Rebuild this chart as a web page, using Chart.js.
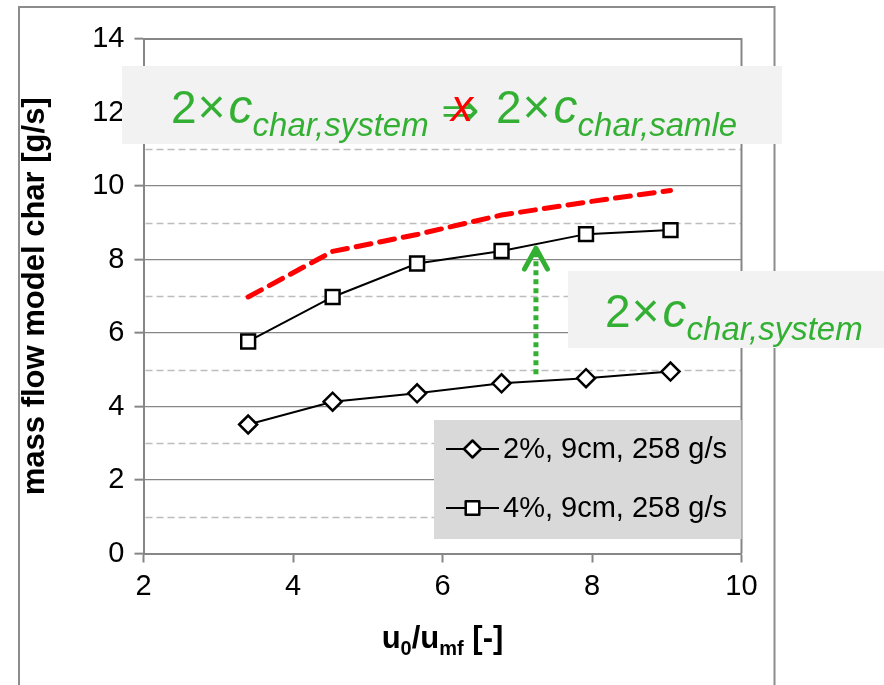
<!DOCTYPE html>
<html><head><meta charset="utf-8">
<script src="https://cdn.jsdelivr.net/npm/chart.js@4.4.0/dist/chart.umd.min.js"></script>
<style>html,body{margin:0;padding:0;background:#fff}#wrap{width:884px;height:685px}</style>
</head><body><div id="wrap"><canvas id="c" width="884" height="685"></canvas></div>
<script>
// ---- data ----
const xValues = [3.40, 4.53, 5.66, 6.79, 7.92, 9.05];
const series2pct = [3.51, 4.13, 4.36, 4.63, 4.77, 4.95];
const series4pct = [5.77, 6.98, 7.89, 8.23, 8.69, 8.80];
const dashedRed = [6.98, 8.22, 8.68, 9.21, 9.56, 9.88];
const arrowX = [7.25, 7.25];
const arrowY = [4.88, 8.31];
const xTickValues = [2, 4, 6, 8, 10];
const yTickValues = [0, 2, 4, 6, 8, 10, 12, 14];
const minorY = [1, 3, 5, 7, 9, 11, 13];
const seriesLabels = ['2%, 9cm, 258 g/s', '4%, 9cm, 258 g/s'];
const yTitle = 'mass flow model char [g/s]';

const FONT = '"Liberation Sans", Arial, sans-serif';
const GREEN = '#33b033';
const AXIS = '#868686';

const pts = (ys) => xValues.map((x, i) => ({x, y: ys[i]}));

function drawRuns(ctx, x, yBase, runs) {
  ctx.textBaseline = 'alphabetic';
  ctx.textAlign = 'left';
  for (const r of runs) {
    ctx.font = r.font;
    ctx.fillStyle = r.color || '#000';
    ctx.fillText(r.t, x, yBase + (r.dy || 0));
    x += ctx.measureText(r.t).width + (r.gap || 0);
  }
  return x;
}
function runsWidth(ctx, runs) {
  let w = 0;
  for (const r of runs) { ctx.font = r.font; w += ctx.measureText(r.t).width + (r.gap || 0); }
  return w;
}
function cGroup(sub) {
  return [
    {t: '2', font: '46px ' + FONT, color: GREEN, gap: 1},
    {t: '×', font: '48px ' + FONT, color: GREEN, gap: 3},
    {t: 'c', font: 'italic 48px ' + FONT, color: GREEN},
    {t: sub, font: 'italic 33px ' + FONT, color: GREEN, dy: 13}
  ];
}
function drawMarker(ctx, style, cx, cy) {
  ctx.save();
  ctx.fillStyle = '#fff'; ctx.strokeStyle = '#000'; ctx.lineWidth = 2.5;
  ctx.beginPath();
  if (style === 'rectRot') {
    const r = 8.5;
    ctx.moveTo(cx, cy - r); ctx.lineTo(cx + r, cy); ctx.lineTo(cx, cy + r); ctx.lineTo(cx - r, cy); ctx.closePath();
  } else {
    const s = 6.8;
    ctx.rect(cx - s, cy - s, 2 * s, 2 * s);
  }
  ctx.fill(); ctx.stroke();
  ctx.restore();
}

const deco = {
  id: 'deco',
  beforeDraw(chart) {
    const ctx = chart.ctx;
    ctx.save();
    ctx.fillStyle = '#fff'; ctx.fillRect(0, 0, chart.width, chart.height);
    ctx.strokeStyle = '#8c8c8c'; ctx.lineWidth = 2;
    ctx.strokeRect(19, 7, 755.5, 700);
    ctx.restore();
  },
  beforeDatasetsDraw(chart) {
    const {ctx, chartArea: a, scales: {y}} = chart;
    ctx.save();
    ctx.strokeStyle = '#bdbdbd'; ctx.lineWidth = 1.4; ctx.setLineDash([7, 4]);
    minorY.forEach(v => {
      const py = Math.round(y.getPixelForValue(v)) + 0.5;
      ctx.beginPath(); ctx.moveTo(a.left + 2, py); ctx.lineTo(a.right, py); ctx.stroke();
    });
    ctx.setLineDash([]);
    ctx.strokeStyle = AXIS; ctx.lineWidth = 2;
    ctx.beginPath(); ctx.moveTo(a.left, a.top); ctx.lineTo(a.right, a.top); ctx.lineTo(a.right, a.bottom); ctx.stroke();
    ctx.restore();
  },
  afterDraw(chart) {
    const {ctx, chartArea: a, scales: {x, y}} = chart;
    ctx.save();
    // arrow head
    const tx = x.getPixelForValue(arrowX[1]), ty = y.getPixelForValue(arrowY[1]);
    ctx.strokeStyle = GREEN; ctx.lineWidth = 5; ctx.lineCap = 'round'; ctx.lineJoin = 'round';
    ctx.beginPath(); ctx.moveTo(tx - 11.5, ty + 21); ctx.lineTo(tx, ty); ctx.lineTo(tx + 11.5, ty + 21); ctx.stroke();

    // legend
    ctx.fillStyle = '#d9d9d9'; ctx.fillRect(434, 420, a.right - 434, 119);
    const rows = [449, 508], styles = ['rectRot', 'rect'];
    rows.forEach((ry, i) => {
      ctx.strokeStyle = '#000'; ctx.lineWidth = 2; ctx.lineCap = 'butt';
      ctx.beginPath(); ctx.moveTo(446, ry); ctx.lineTo(499, ry); ctx.stroke();
      drawMarker(ctx, styles[i], 472.5, ry);
      ctx.fillStyle = '#000'; ctx.font = '29px ' + FONT; ctx.textBaseline = 'middle'; ctx.textAlign = 'left';
      ctx.fillText(seriesLabels[i], 503, ry + 1);
    });

    // top annotation
    ctx.fillStyle = '#f2f2f2'; ctx.fillRect(122, 66, 660, 78);
    drawRuns(ctx, 171, 123, cGroup('char,system'));
    ctx.fillStyle = GREEN; ctx.font = '46px "DejaVu Sans", sans-serif'; ctx.textBaseline = 'alphabetic'; ctx.textAlign = 'left';
    ctx.fillText('⇒', 441, 126);
    ctx.fillStyle = '#ff0000'; ctx.font = 'italic 44px ' + FONT;
    ctx.fillText('x', 451, 121);
    drawRuns(ctx, 496, 123, cGroup('char,samle'));

    // right annotation
    ctx.fillStyle = '#f2f2f2'; ctx.fillRect(568, 271, 884 - 568, 77);
    drawRuns(ctx, 605, 327, cGroup('char,system'));

    // y title
    ctx.save();
    ctx.translate(44, (a.top + a.bottom) / 2);
    ctx.rotate(-Math.PI / 2);
    ctx.fillStyle = '#000'; ctx.font = 'bold 31px ' + FONT; ctx.textAlign = 'center'; ctx.textBaseline = 'alphabetic';
    ctx.fillText(yTitle, 0, 0);
    ctx.restore();

    // x title
    const xr = [
      {t: 'u', font: 'bold 31px ' + FONT},
      {t: '0', font: 'bold 20px ' + FONT, dy: 7},
      {t: '/u', font: 'bold 31px ' + FONT},
      {t: 'mf', font: 'bold 20px ' + FONT, dy: 7},
      {t: ' [-]', font: 'bold 31px ' + FONT}
    ];
    const w = runsWidth(ctx, xr);
    drawRuns(ctx, (a.left + a.right) / 2 - w / 2, 648, xr);
    ctx.restore();
  }
};

new Chart(document.getElementById('c'), {
  type: 'scatter',
  data: {
    datasets: [
      {label: seriesLabels[0], data: pts(series2pct), showLine: true, borderColor: '#000', borderWidth: 2,
       pointStyle: 'rectRot', pointRadius: 9, pointBackgroundColor: '#fff', pointBorderColor: '#000', pointBorderWidth: 2.5},
      {label: seriesLabels[1], data: pts(series4pct), showLine: true, borderColor: '#000', borderWidth: 2,
       pointStyle: 'rect', pointRadius: 9.8, pointBackgroundColor: '#fff', pointBorderColor: '#000', pointBorderWidth: 2.5},
      {label: 'system x2', data: pts(dashedRed), showLine: true, borderColor: '#ff0000', borderWidth: 5,
       borderDash: [15, 9], pointRadius: 0, borderCapStyle: 'round'},
      {label: 'arrow', data: arrowX.map((ax, i) => ({x: ax, y: arrowY[i]})), showLine: true, borderColor: GREEN,
       borderWidth: 5, borderDash: [5, 4], pointRadius: 0, borderCapStyle: 'butt'}
    ]
  },
  options: {
    responsive: false, animation: false, devicePixelRatio: 1,
    layout: {padding: {left: 0, right: 142.5, top: 39, bottom: 0}},
    plugins: {legend: {display: false}, tooltip: {enabled: false}},
    scales: {
      x: {
        type: 'linear', min: 2, max: 10,
        afterBuildTicks: (s) => { s.ticks = xTickValues.map(v => ({value: v})); },
        afterFit: (s) => { s.height = 131.5; },
        ticks: {color: '#000', font: {size: 29, family: FONT}, padding: 7, maxRotation: 0},
        grid: {drawOnChartArea: false, drawTicks: true, tickLength: 9, tickColor: AXIS, tickWidth: 2},
        border: {color: AXIS, width: 2}
      },
      y: {
        type: 'linear', min: 0, max: 14,
        afterBuildTicks: (s) => { s.ticks = yTickValues.map(v => ({value: v})); },
        afterFit: (s) => { s.width = 143.5; },
        ticks: {color: '#000', font: {size: 29, family: FONT}, padding: 10},
        grid: {color: AXIS, lineWidth: 1.3, drawTicks: true, tickLength: 9, tickColor: AXIS, tickWidth: 2},
        border: {color: AXIS, width: 2}
      }
    }
  },
  plugins: [deco]
});
</script>
</body></html>
